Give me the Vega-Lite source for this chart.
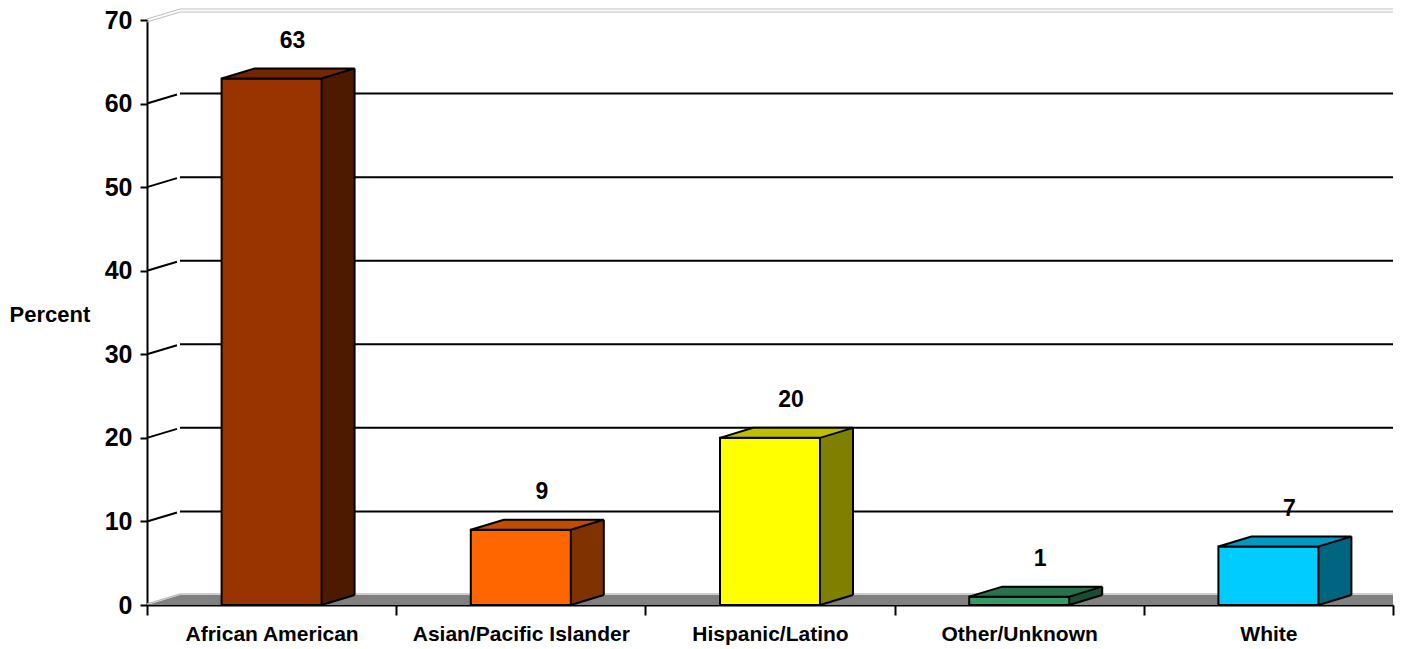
{
  "$schema": "https://vega.github.io/schema/vega-lite/v6.json",
  "width": 1246,
  "height": 585,
  "autosize": {"type": "none"},
  "padding": {"left": 147, "top": 20, "right": 8, "bottom": 44},
  "background": "white",
  "config": {
    "view": {"stroke": null},
    "font": "Liberation Sans",
    "axisX": {"labelAngle": 0, "labelFontSize": 21, "labelFontWeight": "bold", "labelColor": "black", "labelLimit": 400,
              "labelPadding": 8, "tickBand": "extent", "tickSize": 10, "tickWidth": 2, "tickColor": "black",
              "domainWidth": 2, "domainColor": "black", "grid": false},
    "axisY": {"titleAngle": 0, "titleAlign": "left", "titleBaseline": "middle",
              "titleX": -138, "titleY": 294, "titleFontSize": 22, "titleFontWeight": "bold", "titleColor": "black",
              "labelFontSize": 25, "labelFontWeight": "bold",
              "labelColor": "black", "labelPadding": 8, "tickSize": 7, "tickWidth": 2, "tickColor": "black",
              "domainWidth": 2, "domainColor": "black", "grid": false}
  },
  "datasets": {
    "bars": [
      {"Race": "African American", "Percent": 63},
      {"Race": "Asian/Pacific Islander", "Percent": 9},
      {"Race": "Hispanic/Latino", "Percent": 20},
      {"Race": "Other/Unknown", "Percent": 1},
      {"Race": "White", "Percent": 7}
    ],
    "ticks": [
      {"t": 0}, {"t": 10}, {"t": 20}, {"t": 30}, {"t": 40}, {"t": 50}, {"t": 60}, {"t": 70}
    ]
  },
  "data": {"name": "bars"},
  "resolve": {"scale": {"color": "independent"}},
  "layer": [
    {
      "mark": {"type": "bar", "width": 100, "opacity": 0},
      "encoding": {
        "x": {"field": "Race", "type": "nominal",
          "scale": {"paddingInner": 0, "paddingOuter": 0},
          "axis": {"title": null}},
        "y": {"field": "Percent", "type": "quantitative",
          "scale": {"domain": [0, 70], "nice": false},
          "axis": {"title": "Percent", "values": [0, 10, 20, 30, 40, 50, 60, 70]}}
      }
    },
    {
      "data": {"name": "ticks"},
      "transform": [{"filter": "datum.t == 0"}],
      "mark": {"type": "point", "shape": "M0,0L33,-10L1246,-10L1246,0Z", "size": 4, "filled": true, "fill": "#808080", "opacity": 1, "strokeWidth": 0},
      "encoding": {
        "x": {"datum": "African American", "type": "nominal", "bandPosition": 0},
        "y": {"field": "t", "type": "quantitative"}
      }
    },
    {
      "data": {"name": "ticks"},
      "transform": [{"filter": "datum.t == 0"}],
      "mark": {"type": "point", "shape": "M0,-1L33,-11L1246,-11", "size": 4, "filled": false, "stroke": "#c0c0c0", "opacity": 1, "strokeWidth": 1.5},
      "encoding": {
        "x": {"datum": "African American", "type": "nominal", "bandPosition": 0},
        "y": {"field": "t", "type": "quantitative"}
      }
    },
    {
      "data": {"name": "ticks"},
      "transform": [{"filter": "datum.t == 70"}],
      "mark": {"type": "point", "shape": "M0,-1L33,-11L1246,-11M0,2L33,-8L1246,-8", "size": 4, "filled": false, "stroke": "#c0c0c0", "opacity": 1, "strokeWidth": 1.2},
      "encoding": {
        "x": {"datum": "African American", "type": "nominal", "bandPosition": 0},
        "y": {"field": "t", "type": "quantitative"}
      }
    },
    {
      "data": {"name": "ticks"},
      "transform": [{"filter": "datum.t > 0 && datum.t < 70"}],
      "mark": {"type": "point", "shape": "M0,0L30,-9M33,-10L1246,-10", "size": 4, "filled": false, "stroke": "black", "opacity": 1, "strokeWidth": 2},
      "encoding": {
        "x": {"datum": "African American", "type": "nominal", "bandPosition": 0},
        "y": {"field": "t", "type": "quantitative"}
      }
    },
    {
      "mark": {"type": "bar", "width": 100, "xOffset": 33, "x2Offset": 33, "yOffset": -10, "y2Offset": -10, "opacity": 1},
      "encoding": {
        "x": {"field": "Race", "type": "nominal"},
        "y": {"field": "Percent", "type": "quantitative"},
        "color": {"field": "Race", "type": "nominal", "legend": null,
          "scale": {"domain": ["African American", "Asian/Pacific Islander", "Hispanic/Latino", "Other/Unknown", "White"],
                    "range": ["#4d1a00", "#803300", "#808000", "#1a4d33", "#006680"]}}
      }
    },
    {
      "mark": {"type": "point", "shape": "M0,0L33,-10L0,-10Z", "size": 4, "filled": true, "opacity": 1, "strokeWidth": 0, "xOffset": 50},
      "encoding": {
        "x": {"field": "Race", "type": "nominal"},
        "y": {"datum": 0, "type": "quantitative"},
        "color": {"field": "Race", "type": "nominal", "legend": null,
          "scale": {"domain": ["African American", "Asian/Pacific Islander", "Hispanic/Latino", "Other/Unknown", "White"],
                    "range": ["#4d1a00", "#803300", "#808000", "#1a4d33", "#006680"]}}
      }
    },
    {
      "mark": {"type": "bar", "width": 100, "stroke": "black", "strokeWidth": 2, "opacity": 1},
      "encoding": {
        "x": {"field": "Race", "type": "nominal"},
        "y": {"field": "Percent", "type": "quantitative"},
        "color": {"field": "Race", "type": "nominal", "legend": null,
          "scale": {"domain": ["African American", "Asian/Pacific Islander", "Hispanic/Latino", "Other/Unknown", "White"],
                    "range": ["#993300", "#ff6600", "#ffff00", "#339966", "#00ccff"]}}
      }
    },
    {
      "mark": {"type": "point", "shape": "M0,0L33,-10L133,-10L100,0Z", "size": 4, "filled": true, "opacity": 1, "stroke": "black", "strokeWidth": 2, "xOffset": -50},
      "encoding": {
        "x": {"field": "Race", "type": "nominal"},
        "y": {"field": "Percent", "type": "quantitative"},
        "color": {"field": "Race", "type": "nominal", "legend": null,
          "scale": {"domain": ["African American", "Asian/Pacific Islander", "Hispanic/Latino", "Other/Unknown", "White"],
                    "range": ["#732600", "#bf4c00", "#bfbf00", "#26734d", "#0099bf"]}}
      }
    },
    {
      "mark": {"type": "rule", "xOffset": 83, "yOffset": -10, "y2Offset": -10, "stroke": "black", "strokeWidth": 2},
      "encoding": {
        "x": {"field": "Race", "type": "nominal"},
        "y": {"field": "Percent", "type": "quantitative"},
        "y2": {"datum": 0}
      }
    },
    {
      "mark": {"type": "point", "shape": "M0,0L33,-10", "size": 4, "filled": false, "opacity": 1, "stroke": "black", "strokeWidth": 2, "xOffset": 50},
      "encoding": {
        "x": {"field": "Race", "type": "nominal"},
        "y": {"datum": 0, "type": "quantitative"}
      }
    },
    {
      "mark": {"type": "text", "fontSize": 23, "fontWeight": "bold", "color": "black", "baseline": "middle", "align": "center", "xOffset": 21, "yOffset": -38},
      "encoding": {
        "x": {"field": "Race", "type": "nominal"},
        "y": {"field": "Percent", "type": "quantitative"},
        "text": {"field": "Percent", "type": "quantitative"}
      }
    }
  ]
}
